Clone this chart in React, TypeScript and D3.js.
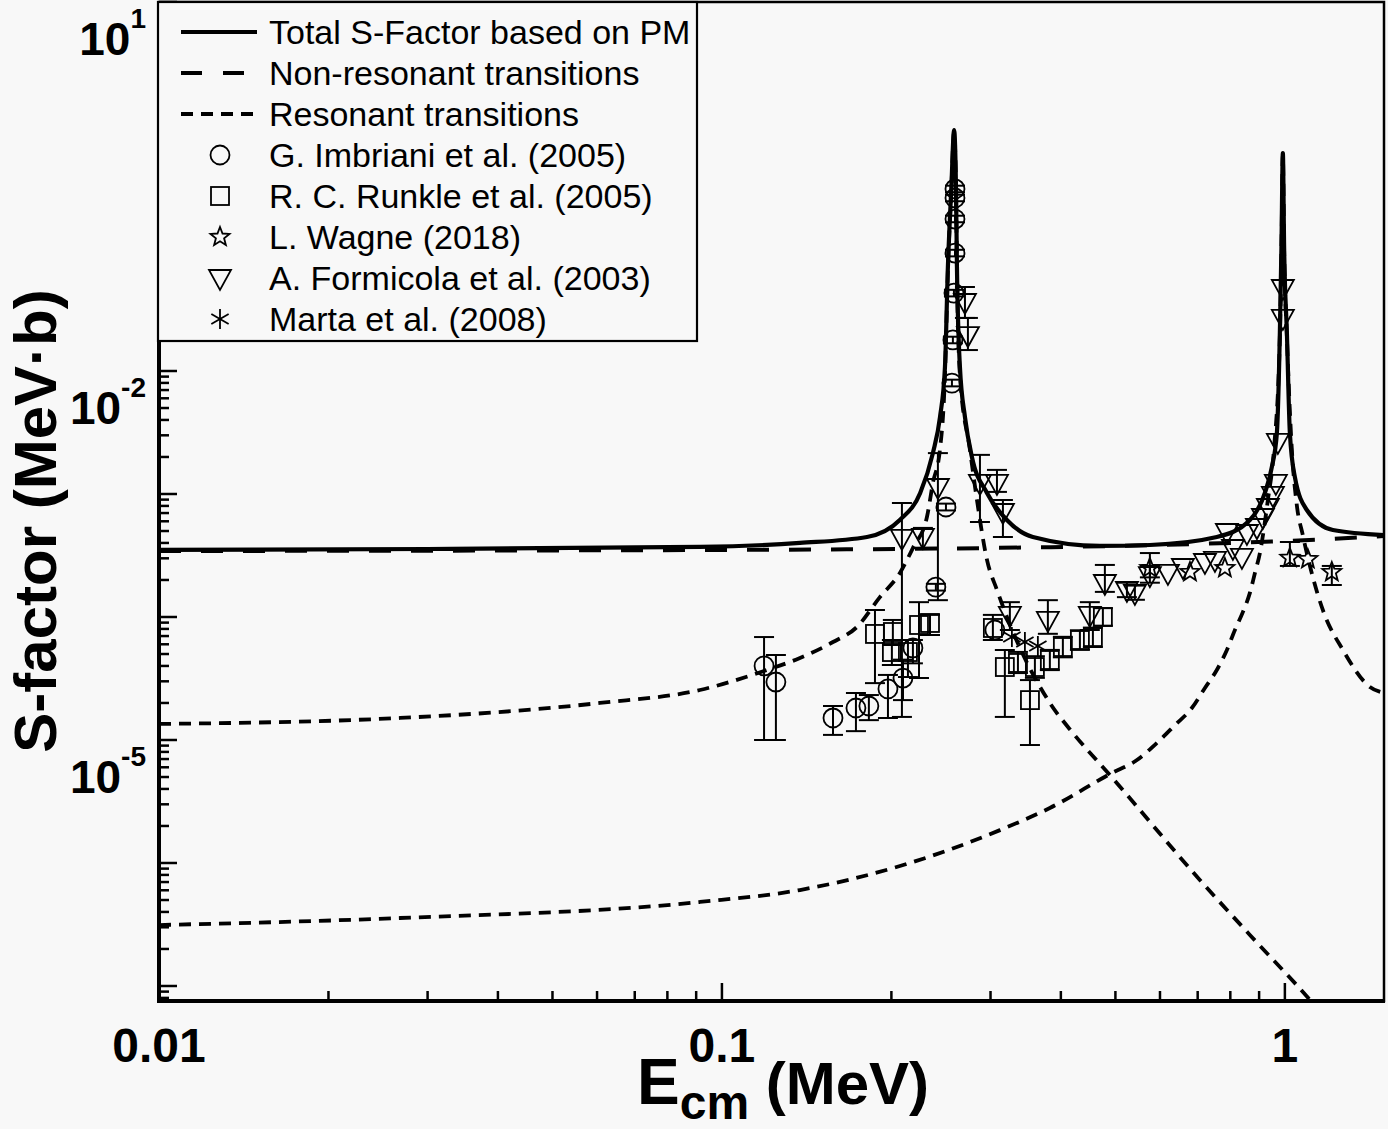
import * as d3 from "d3";

type Pt = [number, number];
// [E (MeV), S (MeV b), lower error, upper error]
type Obs = [number, number, number?, number?];

// ---- model curves ----
const totalCurve: Pt[] = [
  [0.01, 3.51e-4], [0.03, 3.57e-4], [0.0914, 3.71e-4], [0.1376, 4.0e-4],
  [0.181, 4.47e-4], [0.207, 6.15e-4], [0.225, 1.02e-3], [0.237, 2.15e-3],
  [0.244, 4.23e-3], [0.249, 0.0108], [0.252, 0.0702], [0.2555, 0.3],
  [0.2585, 0.91], [0.2605, 0.3], [0.2615, 0.0702], [0.2647, 0.0108],
  [0.2702, 4.23e-3], [0.278, 2.0e-3], [0.2957, 1.02e-3], [0.3208, 6.15e-4],
  [0.3567, 4.47e-4], [0.4693, 3.78e-4], [0.5757, 3.85e-4], [0.757, 4.47e-4],
  [0.8667, 6.15e-4], [0.9215, 1.02e-3], [0.9482, 1.66e-3], [0.9678, 3.13e-3],
  [0.9797, 0.0204], [0.986, 0.1], [0.9918, 0.59], [0.997, 0.1],
  [1.0083, 0.0204], [1.0207, 3.13e-3], [1.0418, 1.37e-3], [1.094, 7.41e-4],
  [1.217, 5.1e-4], [1.5, 4.64e-4],
];

const nonResonantCurve: Pt[] = [
  [0.01, 3.44e-4], [0.1, 3.51e-4], [0.3, 3.64e-4], [0.5, 3.78e-4],
  [0.8, 4.0e-4], [1.2, 4.3e-4], [1.5, 4.56e-4],
];

const resonantCurve1: Pt[] = [
  [0.01, 1.35e-5], [0.0268, 1.51e-5], [0.0607, 2.0e-5], [0.0914, 2.55e-5],
  [0.1202, 3.71e-5], [0.1376, 4.64e-5], [0.1575, 6.26e-5], [0.1737, 8.29e-5],
  [0.1908, 1.45e-4], [0.2071, 2.28e-4], [0.2184, 3.64e-4], [0.2313, 6.5e-4],
  [0.237, 1.23e-3], [0.2439, 2.28e-3], [0.249, 9.3e-3], [0.252, 0.066],
  [0.2555, 0.29], [0.2585, 0.88], [0.2605, 0.29], [0.2615, 0.066],
  [0.2647, 9.3e-3], [0.2758, 2.28e-3], [0.2838, 8.94e-4], [0.2957, 2.91e-4],
  [0.308, 1.66e-4], [0.3208, 1.0e-4], [0.3824, 2.0e-5], [0.4202, 1.14e-5],
  [0.4889, 5.19e-6], [0.7063, 7.28e-7], [0.8667, 2.6e-7], [1.108, 7.69e-8],
  [1.2, 5.0e-8],
];

const resonantCurve2: Pt[] = [
  [0.01, 3.13e-7], [0.0268, 3.57e-7], [0.0914, 4.82e-7], [0.1376, 6.03e-7],
  [0.2071, 9.45e-7], [0.3118, 1.85e-6], [0.3824, 2.8e-6], [0.4928, 5.39e-6],
  [0.546, 6.87e-6], [0.5925, 9.46e-6], [0.6377, 1.32e-5], [0.6835, 1.82e-5],
  [0.7211, 2.65e-5], [0.757, 3.71e-5], [0.7889, 5.39e-5], [0.8152, 7.84e-5],
  [0.8424, 1.1e-4], [0.8667, 1.57e-4], [0.8847, 2.28e-4], [0.9029, 3.31e-4],
  [0.9328, 8.94e-4], [0.9561, 2.28e-3], [0.9797, 0.019],
  [0.986, 0.095], [0.9918, 0.57], [0.997, 0.095], [1.0083, 0.019],
  [1.029, 2.28e-3], [1.05, 8.14e-4], [1.076, 4.64e-4], [1.121, 2.11e-4],
  [1.168, 1.14e-4], [1.268, 5.39e-5], [1.416, 2.7e-5], [1.5, 2.41e-5],
];

// ---- experimental data ----
const imbrianiData: Obs[] = [
  [0.1188, 4.0e-5, 1.0e-5, 6.87e-5],
  [0.1247, 2.96e-5, 1.0e-5, 4.91e-5],
  [0.1575, 1.51e-5, 1.1e-5, 1.89e-5],
  [0.173, 1.82e-5, 1.18e-5, 2.41e-5],
  [0.1824, 1.89e-5, 1.45e-5, 2.32e-5],
  [0.1972, 2.6e-5, 1.51e-5, 3.38e-5],
  [0.2097, 3.19e-5, 2.11e-5, 4.5e-5],
  [0.2184, 5.6e-5, 4.2e-5, 6.5e-5],
  [0.2399, 1.75e-4, 1.64e-4, 1.86e-4],
  [0.25, 7.84e-4, 7.35e-4, 8.35e-4],
  [0.2562, 7.98e-3, 7.5e-3, 8.5e-3],
  [0.2572, 0.0179, 0.0168, 0.019],
  [0.2583, 0.043, 0.0404, 0.0457],
  [0.2594, 0.091, 0.0855, 0.0967],
  [0.2594, 0.172, 0.162, 0.183],
  [0.2594, 0.255, 0.24, 0.271],
  [0.2594, 0.302, 0.284, 0.321],
  [0.3054, 7.84e-5],
];

const runkleData: Obs[] = [
  [0.187, 7.28e-5, 2.9e-5, 1.14e-4],
  [0.2012, 7.55e-5, 5.92e-5, 9.46e-5],
  [0.2004, 5.19e-5, 4.07e-5, 6.5e-5],
  [0.214, 5.19e-5, 3.25e-5, 6.5e-5],
  [0.2239, 8.61e-5, 3.19e-5, 1.32e-4],
  [0.2342, 8.94e-5, 7.14e-5, 1.04e-4],
  [0.3029, 8.14e-5, 6.5e-5, 1.04e-4],
  [0.3181, 3.92e-5, 1.54e-5, 5.39e-5],
  [0.3356, 4.23e-5, 3.5e-5, 5.2e-5],
  [0.3525, 2.11e-5, 9.1e-6, 3.07e-5],
  [0.3597, 3.92e-5, 3.2e-5, 4.8e-5],
  [0.3824, 4.47e-5, 3.7e-5, 5.4e-5],
  [0.4033, 5.7e-5, 4.7e-5, 6.9e-5],
  [0.4324, 6.5e-5, 5.4e-5, 7.8e-5],
  [0.456, 6.87e-5, 5.7e-5, 8.2e-5],
  [0.475, 1.0e-4, 8.5e-5, 1.18e-4],
];

const wagneData: Obs[] = [
  [0.5757, 2.5e-4, 2.1e-4, 3.31e-4],
  [0.6783, 2.32e-4],
  [0.7824, 2.5e-4],
  [1.0207, 3.02e-4, 2.6e-4, 4.07e-4],
  [1.0987, 2.95e-4],
  [1.2117, 2.32e-4, 1.82e-4, 2.6e-4],
];

const formicolaData: Obs[] = [
  [0.2088, 4.39e-4, 1.54e-5, 8.45e-4],
  [0.2275, 4.47e-4, 3.64e-4, 5.3e-4],
  [0.2419, 1.14e-3, 1.37e-4, 2.15e-3],
  [0.2702, 0.0364, 0.027, 0.0482],
  [0.2735, 0.0196, 0.0148, 0.027],
  [0.2873, 1.23e-3, 5.92e-4, 2.08e-3],
  [0.308, 1.23e-3, 1.04e-3, 1.57e-3],
  [0.3156, 7.14e-4, 4.47e-4, 8.94e-4],
  [0.3247, 1.04e-4, 7.84e-5, 1.32e-4],
  [0.3793, 9.46e-5, 7.3e-5, 1.37e-4],
  [0.4503, 1.04e-4, 7.84e-5, 1.32e-4],
  [0.4789, 1.89e-4, 1.6e-4, 2.65e-4],
  [0.5241, 1.66e-4, 1.45e-4, 1.9e-4],
  [0.5415, 1.57e-4, 1.38e-4, 1.8e-4],
  [0.5757, 2.19e-4, 1.9e-4, 2.6e-4],
  [0.6198, 2.28e-4],
  [0.659, 2.55e-4],
  [0.7211, 2.8e-4],
  [0.7513, 2.91e-4],
  [0.7889, 4.91e-4],
  [0.8085, 3.64e-4],
  [0.8389, 3.08e-4],
  [0.8562, 4.82e-4],
  [0.892, 5.39e-4],
  [0.9141, 6.5e-4],
  [0.9328, 7.84e-4],
  [0.9521, 9.82e-4],
  [0.9638, 1.23e-3],
  [0.9718, 2.65e-3],
  [0.9918, 0.027],
  [0.9918, 0.0473],
];

const martaData: Obs[] = [
  [0.3274, 6.87e-5],
  [0.3453, 6.26e-5],
  [0.3641, 5.81e-5],
];

const yLabelExponents = [1, -2, -5];
const xLabelValues = [0.01, 0.1, 1];
const xLabelTexts = ["0.01", "0.1", "1"];

const legendLabels = [
  "Total S-Factor based on PM",
  "Non-resonant  transitions",
  "Resonant transitions",
  "G. Imbriani et al. (2005)",
  "R. C. Runkle et al. (2005)",
  "L. Wagne (2018)",
  "A. Formicola et al. (2003)",
  "Marta et al. (2008)",
];

const W = 1388;
const H = 1129;
const plot = { left: 159, right: 1384, top: 2, bottom: 1001 };
const FONT = "'Liberation Sans', Arial, Helvetica, sans-serif";
const BG = "#f8f8f8";

const x = d3.scaleLog().domain([0.01, 1.5]).range([plot.left, plot.right]);
const y = d3.scaleLog().domain([7.55e-8, 10]).range([plot.bottom, plot.top]);

const line = d3
  .line<Pt>()
  .x((d) => x(d[0]))
  .y((d) => y(d[1]))
  .curve(d3.curveMonotoneX);

type Kind = "circle" | "square" | "star" | "triangle" | "asterisk";

function starPath(cx: number, cy: number, R: number, r: number) {
  const pts: string[] = [];
  for (let i = 0; i < 10; i++) {
    const a = -Math.PI / 2 + (i * Math.PI) / 5;
    const rad = i % 2 === 0 ? R : r;
    pts.push(`${cx + rad * Math.cos(a)},${cy + rad * Math.sin(a)}`);
  }
  return `M${pts.join("L")}Z`;
}

function Marker({ kind, cx, cy }: { kind: Kind; cx: number; cy: number }) {
  const common = { fill: "none", stroke: "#000", strokeWidth: 1.8 };
  if (kind === "circle") return <circle cx={cx} cy={cy} r={9.5} {...common} />;
  if (kind === "square")
    return <rect x={cx - 9} y={cy - 9} width={18} height={18} {...common} />;
  if (kind === "triangle")
    return (
      <polygon
        points={`${cx - 11},${cy - 8} ${cx + 11},${cy - 8} ${cx},${cy + 12}`}
        {...common}
      />
    );
  if (kind === "star") return <path d={starPath(cx, cy, 10, 4.3)} {...common} />;
  const arms = [90, 30, -30].map((deg) => {
    const a = (deg * Math.PI) / 180;
    const dx = 10 * Math.cos(a);
    const dy = 10 * Math.sin(a);
    return (
      <line key={deg} x1={cx - dx} y1={cy - dy} x2={cx + dx} y2={cy + dy} stroke="#000" strokeWidth={1.8} />
    );
  });
  return <g>{arms}</g>;
}

function Series({ data, kind }: { data: Obs[]; kind: Kind }) {
  return (
    <g>
      {data.map((d, i) => {
        const cx = x(d[0]);
        const cy = y(d[1]);
        const bar =
          d[2] !== undefined && d[3] !== undefined ? (
            <g stroke="#000" strokeWidth={2}>
              <line x1={cx} x2={cx} y1={y(d[3])} y2={y(d[2])} />
              <line x1={cx - 10} x2={cx + 10} y1={y(d[3])} y2={y(d[3])} />
              <line x1={cx - 10} x2={cx + 10} y1={y(d[2])} y2={y(d[2])} />
            </g>
          ) : null;
        return (
          <g key={i}>
            {bar}
            <Marker kind={kind} cx={cx} cy={cy} />
          </g>
        );
      })}
    </g>
  );
}

export default function App() {
  // log ticks, major at each decade, minor at 2..9
  const yTicks: { v: number; major: boolean }[] = [];
  for (let k = -8; k <= 1; k++) {
    for (let m = 1; m <= 9; m++) {
      const v = m * Math.pow(10, k);
      if (v >= 7.55e-8 && v <= 10) yTicks.push({ v, major: m === 1 });
    }
  }
  const xTicks: { v: number; major: boolean }[] = [];
  for (let k = -2; k <= 0; k++) {
    for (let m = 1; m <= 9; m++) {
      const v = m * Math.pow(10, k);
      if (v > 0.01 && v <= 1.5) xTicks.push({ v, major: m === 1 });
    }
  }

  const legendRowY = (i: number) => 32 + i * 41;
  const legendKinds: (Kind | null)[] = [null, null, null, "circle", "square", "star", "triangle", "asterisk"];

  return (
    <div style={{ position: "absolute", left: 0, top: 0 }}>
      <svg width={W} height={H} viewBox={`0 0 ${W} ${H}`} style={{ display: "block", fontFamily: FONT }}>
        <rect width={W} height={H} fill={BG} />
        <defs>
          <clipPath id="plotClip">
            <rect x={plot.left} y={plot.top} width={plot.right - plot.left} height={plot.bottom - plot.top} />
          </clipPath>
        </defs>

        {/* curves */}
        <g clipPath="url(#plotClip)" fill="none" stroke="#000">
          <path d={line(resonantCurve1) ?? ""} strokeWidth={3.8} strokeDasharray="12,8" />
          <path d={line(resonantCurve2) ?? ""} strokeWidth={3.8} strokeDasharray="12,8" />
          <path d={line(nonResonantCurve) ?? ""} strokeWidth={4} strokeDasharray="22,20" />
          <path d={line(totalCurve) ?? ""} strokeWidth={4.2} strokeLinejoin="round" />
        </g>

        {/* data */}
        <g clipPath="url(#plotClip)">
          <Series data={runkleData} kind="square" />
          <Series data={imbrianiData} kind="circle" />
          <Series data={formicolaData} kind="triangle" />
          <Series data={wagneData} kind="star" />
          <Series data={martaData} kind="asterisk" />
        </g>

        {/* frame */}
        <rect
          x={plot.left}
          y={plot.top}
          width={plot.right - plot.left}
          height={plot.bottom - plot.top}
          fill="none"
          stroke="#000"
          strokeWidth={2.5}
        />
        <line x1={plot.left} x2={plot.left} y1={plot.top} y2={plot.bottom + 2} stroke="#000" strokeWidth={4} />
        <line x1={plot.left - 2} x2={plot.right + 1} y1={plot.bottom} y2={plot.bottom} stroke="#000" strokeWidth={4} />

        {/* ticks */}
        <g stroke="#000" strokeWidth={2.5}>
          {yTicks.map((t, i) => (
            <line key={i} x1={plot.left} x2={plot.left + (t.major ? 18 : 10)} y1={y(t.v)} y2={y(t.v)} />
          ))}
          {xTicks.map((t, i) => (
            <line key={i} x1={x(t.v)} x2={x(t.v)} y1={plot.bottom} y2={plot.bottom - (t.major ? 18 : 10)} />
          ))}
        </g>

        {/* y tick labels */}
        {yLabelExponents.map((e) => (
          <text key={e} x={146} y={y(Math.pow(10, e)) + 53} textAnchor="end" fontWeight="bold" fontSize={46} fill="#000">
            10
            <tspan dy={-27} fontSize={28}>
              {e}
            </tspan>
          </text>
        ))}

        {/* x tick labels */}
        {xLabelValues.map((v, i) => (
          <text key={v} x={x(v)} y={1062} textAnchor="middle" fontWeight="bold" fontSize={48} fill="#000">
            {xLabelTexts[i]}
          </text>
        ))}

        {/* axis titles */}
        <text x={637} y={1104} fontWeight="bold" fontSize={64} fill="#000">
          E
          <tspan dy={15} fontSize={48}>
            cm
          </tspan>
          <tspan dy={-15} fontSize={60}>
            {" (MeV)"}
          </tspan>
        </text>
        <text
          transform="translate(56,521) rotate(-90)"
          textAnchor="middle"
          fontWeight="bold"
          fontSize={60}
          fill="#000"
        >
          S-factor (MeV·b)
        </text>

        {/* legend */}
        <rect x={158} y={2} width={539} height={339} fill={BG} stroke="#000" strokeWidth={2.2} />
        {legendLabels.map((label, i) => {
          const ly = legendRowY(i);
          const kind = legendKinds[i];
          return (
            <g key={label}>
              {i === 0 && <line x1={181} x2={257} y1={ly} y2={ly} stroke="#000" strokeWidth={4} />}
              {i === 1 && (
                <line x1={181} x2={257} y1={ly} y2={ly} stroke="#000" strokeWidth={4} strokeDasharray="21,21" />
              )}
              {i === 2 && (
                <line x1={181} x2={257} y1={ly} y2={ly} stroke="#000" strokeWidth={4} strokeDasharray="12,8" />
              )}
              {kind && <Marker kind={kind} cx={220} cy={ly} />}
              <text x={269} y={ly + 12} fontSize={34} fill="#000">
                {label}
              </text>
            </g>
          );
        })}
      </svg>
    </div>
  );
}
